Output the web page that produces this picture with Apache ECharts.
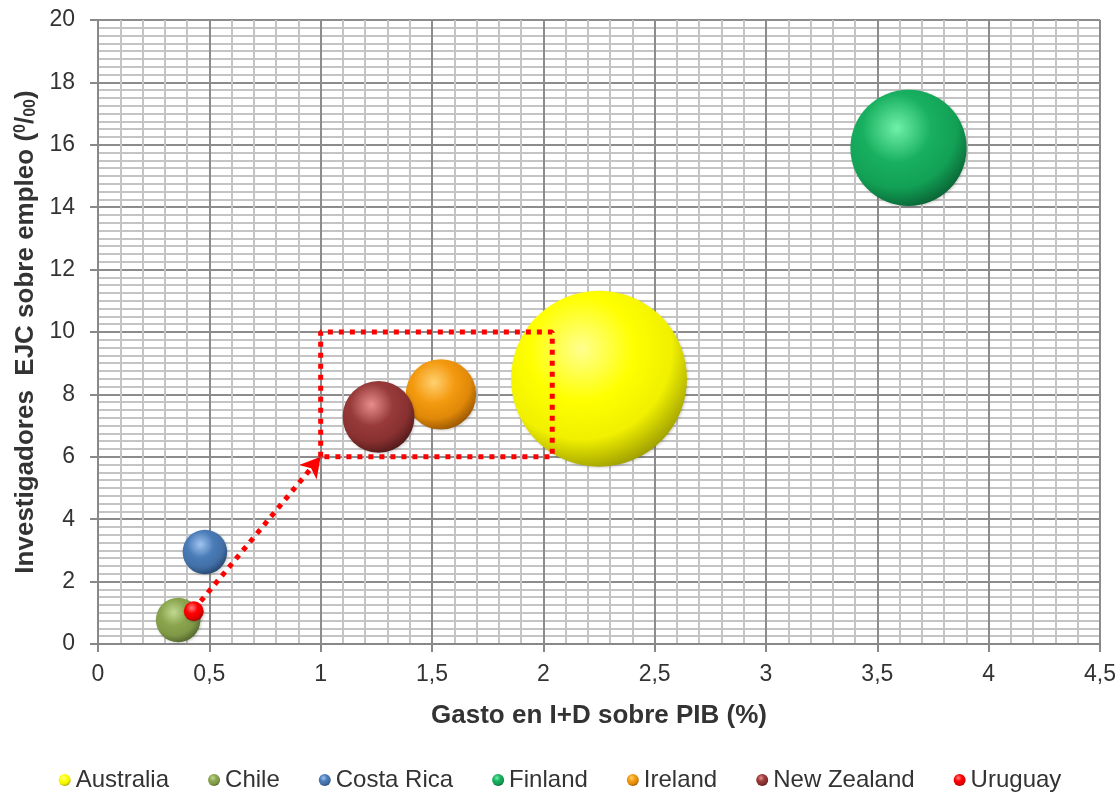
<!DOCTYPE html>
<html><head><meta charset="utf-8">
<script src="https://cdn.jsdelivr.net/npm/echarts@6/dist/echarts.min.js"></script>
<style>html,body{margin:0;padding:0;background:#fff}#c{width:1120px;height:801px}</style>
</head><body><div id="c"></div>
<script>
const countries = ['Australia','Chile','Costa Rica','Finland','Ireland','New Zealand','Uruguay'];
const gastoID = [2.25, 0.36, 0.48, 3.64, 1.54, 1.26, 0.43];
const investigadores = [8.5, 0.77, 2.95, 15.9, 8.0, 7.28, 1.05];
const bubbleSize = [7.8, 0.5, 0.5, 3.4, 1.25, 1.3, 0.1];
const xTicks = ['0','0,5','1','1,5','2','2,5','3','3,5','4','4,5'];
const boxX = [1, 1, 2.04, 2.04, 1];
const boxY = [6, 10, 10, 6, 6];
const arrowFrom = [0.43, 1.1];
const arrowTo = [1.0, 6.0];

const baseColors = [
  ['#ffff90','#ffff00','#f0f000','#7a7a00'],
  ['#c0d890','#8aa54e','#7f9846','#3f5020'],
  ['#a0c4f0','#4a7cb8','#426fa6','#1a3558'],
  ['#70f0a8','#18b060','#12a055','#064a26'],
  ['#ffd070','#f49a10','#e08808','#7a4000'],
  ['#e88c8c','#983a3a','#883030','#3a1010'],
  ['#ff8080','#ff0000','#e80000','#800000']
];
function sphere(c){
  return {type:'radial', x:0.4, y:0.33, r:0.78, colorStops:[
    {offset:0, color:c[0]},{offset:0.38, color:c[1]},{offset:0.66, color:c[2]},{offset:1, color:c[3]}]};
}
const series = countries.map((n,i)=>({
  name:n, type:'scatter',
  data:[[gastoID[i], investigadores[i], bubbleSize[i]]],
  symbolSize: v => Math.sqrt(v[2]) * 63,
  itemStyle:{color:sphere(baseColors[i]), opacity:1, shadowBlur:3, shadowColor:'rgba(0,0,0,0.2)', shadowOffsetX:1, shadowOffsetY:1},
  z:2+i
}));
series.push({
  name:'box', type:'line', data: boxX.map((x,i)=>[x, boxY[i]]),
  symbol:'none', lineStyle:{color:'#ff0000', width:5, type:[5,6]}, z:20, silent:true
});
series.push({
  name:'arrow', type:'line', data: [arrowFrom, arrowTo],
  symbol:'none', lineStyle:{opacity:0}, z:20, silent:true,
  markLine:{silent:true, symbol:['none','arrow'], symbolSize:[17,20], label:{show:false},
    lineStyle:{color:'#ff0000', width:5, type:[5,6]},
    data:[[{coord:arrowFrom},{coord:arrowTo}]]}
});

const chart = echarts.init(document.getElementById('c'));
chart.setOption({
  animation:false,
  textStyle:{fontFamily:'Liberation Sans, Arial, sans-serif'},
  grid:{left:98, right:20, top:20, bottom:157},
  legend:{
    data:countries, bottom:4, left:'center', icon:'circle', itemWidth:12, itemHeight:12, itemGap:39,
    textStyle:{fontSize:24, color:'#333', fontFamily:'Liberation Sans, Arial, sans-serif'}
  },
  xAxis:{
    type:'value', min:0, max:4.5, interval:0.5,
    name:'Gasto en I+D sobre PIB (%)', nameLocation:'middle', nameGap:59,
    nameTextStyle:{fontSize:26, fontWeight:'bold', color:'#333'},
    axisLine:{show:true, lineStyle:{color:'#888', width:2}},
    axisTick:{show:true, length:8, lineStyle:{color:'#888', width:2}},
    axisLabel:{fontSize:23, color:'#333', margin:19, formatter:(v)=>xTicks[Math.round(v*2)]},
    splitLine:{show:true, lineStyle:{color:'#8c8c8c', width:2}},
    minorTick:{show:false, splitNumber:5},
    minorSplitLine:{show:true, lineStyle:{color:'#c4c4c4', width:2}}
  },
  yAxis:{
    type:'value', min:0, max:20, interval:2,
    name:'Investigadores  EJC sobre empleo ({sup|0}/{sub|00})', nameLocation:'middle', nameGap:53,
    nameTextStyle:{fontSize:26, fontWeight:'bold', color:'#333',
      rich:{sup:{fontSize:16, fontWeight:'bold', color:'#333', verticalAlign:'top', padding:[0,0,10,0]},
            sub:{fontSize:16, fontWeight:'bold', color:'#333', verticalAlign:'bottom', padding:[8,0,0,0]}}},
    axisLine:{show:true, lineStyle:{color:'#888', width:2}},
    axisTick:{show:true, length:8, lineStyle:{color:'#888', width:2}},
    axisLabel:{fontSize:23, color:'#333', margin:23},
    splitLine:{show:true, lineStyle:{color:'#8c8c8c', width:2}},
    minorTick:{show:false, splitNumber:8},
    minorSplitLine:{show:true, lineStyle:{color:'#c4c4c4', width:2}}
  },
  series:series
});
</script></body></html>
